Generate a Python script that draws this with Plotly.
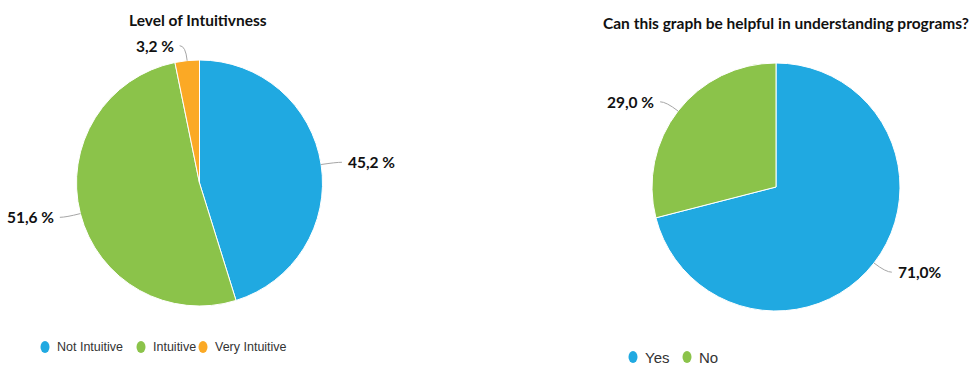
import math
import plotly.graph_objects as go

# ---- data -------------------------------------------------------------
intuit_labels = ["Not Intuitive", "Intuitive", "Very Intuitive"]
intuit_values = [45.2, 51.6, 3.2]
intuit_suffix = [" %", " %", " %"]

helpful_labels = ["Yes", "No"]
helpful_values = [71.0, 29.0]
helpful_suffix = ["%", " %"]

title_left = "Level of Intuitivness"
title_right = "Can this graph be helpful in understanding programs?"

BLUE, GREEN, ORANGE = "#20A9E1", "#8BC34A", "#FBA925"
intuit_colors = [BLUE, GREEN, ORANGE]
helpful_colors = [BLUE, GREEN]

# ---- layout geometry (pixels) ------------------------------------------
W, H = 971, 365
LEFT_PIE = dict(cx=199.5, cy=183.0, r=123.0)
RIGHT_PIE = dict(cx=776.0, cy=187.0, r=124.0)

LABEL_FONT = dict(family="Lato, 'Open Sans', sans-serif", size=15.5, color="#111111")
TITLE_FONT = dict(family="Lato, 'Open Sans', sans-serif", size=15.5, color="#111111")


def legend_font(size):
    return dict(family="'Liberation Sans', Arial, sans-serif", size=size, color="#333333")


def px(x):
    return x / W


def py(y):
    return 1 - y / H


def domain(p):
    return dict(x=[px(p["cx"] - p["r"]), px(p["cx"] + p["r"])],
                y=[py(p["cy"] + p["r"]), py(p["cy"] - p["r"])])


def fmt(v, suffix):
    return f"{v:.1f}".replace(".", ",") + suffix


fig = go.Figure()
shapes, annotations = [], []


def add_pie(labels, values, colors, suffixes, geo):
    fig.add_trace(go.Pie(
        labels=labels, values=values, sort=False, direction="clockwise",
        rotation=0, domain=domain(geo), textinfo="none", showlegend=False,
        marker=dict(colors=colors, line=dict(color="white", width=1)),
        hovertemplate="%{label}: %{value}<extra></extra>",
    ))
    total = sum(values)
    cum = 0.0
    for v, suf in zip(values, suffixes):
        mid = (cum + v / 2) / total * 2 * math.pi
        cum += v
        ux, uy = math.sin(mid), -math.cos(mid)
        ax, ay = geo["cx"] + geo["r"] * ux, geo["cy"] + geo["r"] * uy
        L, hor, gap = 15, 6, 4
        cxp, cyp = ax + L * ux, ay + L * uy
        sgn = 1 if ux >= 0 else -1
        ex, ey = cxp + sgn * hor, cyp
        shapes.append(dict(
            type="path", xref="paper", yref="paper",
            path=f"M {px(ax)},{py(ay)} Q {px(cxp)},{py(cyp)} {px(ex)},{py(ey)}",
            line=dict(color="#A6A6A6", width=1),
        ))
        annotations.append(dict(
            x=px(ex + sgn * gap), y=py(ey), xref="paper", yref="paper",
            text=f"<b>{fmt(v, suf)}</b>", showarrow=False,
            xanchor="left" if sgn > 0 else "right", yanchor="middle",
            font=LABEL_FONT,
        ))


add_pie(intuit_labels, intuit_values, intuit_colors, intuit_suffix, LEFT_PIE)
add_pie(helpful_labels, helpful_values, helpful_colors, helpful_suffix, RIGHT_PIE)

# ---- titles ------------------------------------------------------------
annotations.append(dict(x=px(197.5), y=py(20), xref="paper", yref="paper",
                        text=f"<b>{title_left}</b>", showarrow=False,
                        xanchor="center", yanchor="middle", font=TITLE_FONT))
annotations.append(dict(x=px(786), y=py(23), xref="paper", yref="paper",
                        text=f"<b>{title_right}</b>", showarrow=False,
                        xanchor="center", yanchor="middle", font=TITLE_FONT))


# ---- legends (dot + label rows) ----------------------------------------
def add_legend(labels, colors, xs, y, size):
    for lab, col, x in zip(labels, colors, xs):
        shapes.append(dict(type="circle", xref="paper", yref="paper",
                           x0=px(x - 4.5), x1=px(x + 4.5), y0=py(y + 6), y1=py(y - 6),
                           fillcolor=col, line=dict(width=0)))
        annotations.append(dict(x=px(x + 10), y=py(y), xref="paper", yref="paper",
                                text=lab, showarrow=False, xanchor="left",
                                yanchor="middle", font=legend_font(size)))


add_legend(intuit_labels, intuit_colors, [45, 141, 203], 347, 12.5)
add_legend(helpful_labels, helpful_colors, [633, 687], 357, 15)

fig.update_layout(
    width=W, height=H, margin=dict(l=0, r=0, t=0, b=0),
    paper_bgcolor="white", plot_bgcolor="white",
    shapes=shapes, annotations=annotations,
)

fig.write_html("out.html")
